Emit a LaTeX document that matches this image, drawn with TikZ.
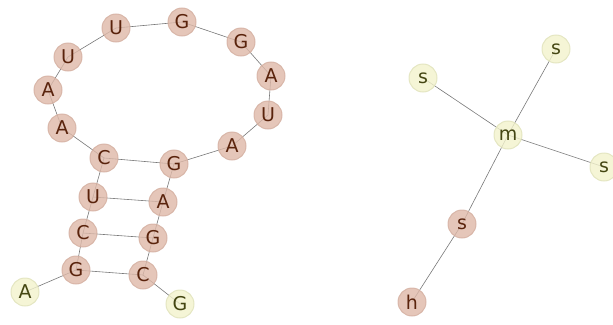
\documentclass[tikz,border=0pt]{standalone}
\usepackage{fontspec}
\setmainfont{DejaVu Sans}
\usetikzlibrary{backgrounds}
\definecolor{brfill}{RGB}{222,184,168}
\definecolor{brline}{RGB}{212,175,160}
\definecolor{brtext}{RGB}{90,35,12}
\definecolor{plfill}{RGB}{242,242,204}
\definecolor{plline}{RGB}{224,226,186}
\definecolor{pltext}{RGB}{68,70,18}
\definecolor{edgec}{RGB}{120,120,120}
\begin{document}
\begin{tikzpicture}[x=1pt,y=-1pt,
  base/.style={circle,minimum size=28pt,inner sep=0pt,line width=1pt,fill opacity=0.8,draw opacity=0.8,text opacity=1,font=\fontsize{19}{19}\selectfont},
  br/.style={base,fill=brfill,draw=brline,text=brtext},
  pl/.style={base,fill=plfill,draw=plline,text=pltext},
  edge/.style={draw=edgec,line width=0.6pt}]
\useasboundingbox (0,0) rectangle (613,324);
% left graph nodes
\node[pl] (n1) at (25,292) {A};
\node[br] (n2) at (76,270) {G};
\node[br] (n3) at (83,233) {C};
\node[br] (n4) at (93,197) {U};
\node[br] (n5) at (104,158) {C};
\node[br] (n6) at (62,128) {A};
\node[br] (n7) at (48,90) {A};
\node[br] (n8) at (68,57) {U};
\node[br] (n9) at (116,28) {U};
\node[br] (n10) at (182,22) {G};
\node[br] (n11) at (241,42) {G};
\node[br] (n12) at (271,76) {A};
\node[br] (n13) at (268,115) {U};
\node[br] (n14) at (232,146) {A};
\node[br] (n15) at (174,164) {G};
\node[br] (n16) at (163,202) {A};
\node[br] (n17) at (153,238) {G};
\node[br] (n18) at (143,275) {C};
\node[pl] (n19) at (180,304) {G};
% right graph nodes
\node[pl] (m) at (508,135) {m};
\node[pl] (s1) at (556,49) {s};
\node[pl] (s2) at (423,78) {s};
\node[pl] (s3) at (604,167) {s};
\node[br] (s4) at (462,224) {s};
\node[br] (h) at (412,302) {h};
\begin{scope}[on background layer]
\path[edge] (n1.center)--(n2.center)--(n3.center)--(n4.center)--(n5.center)--(n6.center)--(n7.center)--(n8.center)--(n9.center)--(n10.center)--(n11.center)--(n12.center)--(n13.center)--(n14.center)--(n15.center)--(n16.center)--(n17.center)--(n18.center)--(n19.center);
\path[edge] (n5.center)--(n15.center) (n4.center)--(n16.center) (n3.center)--(n17.center) (n2.center)--(n18.center);
\path[edge] (m.center)--(s1.center) (m.center)--(s2.center) (m.center)--(s3.center) (m.center)--(s4.center) (s4.center)--(h.center);
\end{scope}
\end{tikzpicture}
\end{document}
